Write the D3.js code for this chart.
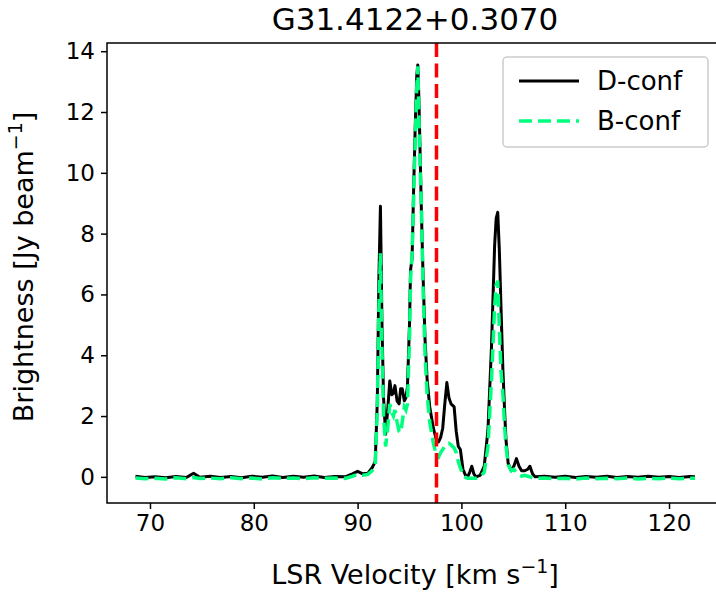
<!DOCTYPE html>
<html>
<head>
<meta charset="utf-8">
<script src="https://cdn.jsdelivr.net/npm/d3@7"></script>
<style>
  body { margin: 0; background: #fff; }
  svg { display: block; font-family: "DejaVu Sans", sans-serif; }
</style>
</head>
<body>
<div id="chart"></div>
<script>
// spectrum (km/s, Jy/beam)
var velocity = [68.6, 69.5, 70.5, 71.5, 72.5, 73.5, 74.2, 74.8, 75.8, 76.8, 77.8, 78.8, 79.8, 80.8, 81.8, 82.8, 83.8, 84.8, 85.8, 86.8, 87.8, 88.8,
  89.5, 90.0, 90.5, 91.0, 91.4, 91.7, 91.9, 92.05, 92.2, 92.35, 92.5, 92.7, 92.9, 93.1, 93.3, 93.45, 93.6, 93.8, 94.0, 94.15, 94.3, 94.5, 94.65, 94.8,
  95.0, 95.1, 95.25, 95.4, 95.55, 95.7, 95.8, 95.9, 96.0, 96.15, 96.3, 96.5, 96.7, 96.95, 97.3, 97.6, 97.8, 98.0, 98.2, 98.4, 98.6, 98.8, 99.0, 99.3,
  99.5, 99.7, 99.9, 100.15, 100.4, 100.6, 100.8, 101.0, 101.2, 101.4, 101.8, 102.2, 102.56, 102.9, 103.2, 103.35, 103.5, 103.65, 103.83, 104.0, 104.17,
  104.3, 104.5, 104.8, 105.05, 105.3, 105.55, 105.8, 106.1, 106.4, 106.6, 106.85, 107.1, 108, 109, 110, 111, 112, 113, 114, 115, 116, 117, 118, 119,
  120, 121, 122, 122.5];

var dConf = [0.02, -0.02, 0.0, -0.03, 0.01, -0.02, 0.12, -0.01, 0.02, -0.02, 0.01, -0.03, 0.02, -0.01, 0.03, -0.02, 0.02, -0.01, 0.03, -0.02, 0.01, 0.0,
  0.1, 0.18, 0.1, 0.12, 0.3, 0.5, 2.5, 6.5, 8.9, 5.0, 2.6, 1.4, 2.2, 3.15, 2.7, 2.75, 3.0, 2.5, 2.4, 2.9, 2.9, 2.5, 2.6, 2.95,
  5.0, 6.8, 7.2, 9.5, 11.5, 13.2, 13.55, 12.5, 11.0, 8.7, 6.7, 4.5, 3.2, 2.3, 1.6, 1.2, 1.15, 1.3, 1.6, 2.4, 3.1, 2.6, 2.4, 2.3,
  1.5, 1.0, 0.9, 0.25, 0.05, 0.0, 0.15, 0.35, 0.1, 0.0, 0.05, 0.35, 1.55, 4.3, 7.6, 8.5, 8.7, 7.5, 5.4, 3.5, 2.1,
  1.2, 0.45, 0.2, 0.35, 0.6, 0.35, 0.2, 0.2, 0.25, 0.35, 0.1, 0.0, 0.02, -0.01, 0.02, -0.02, 0.01, -0.01, 0.02, -0.02, 0.01, -0.01, 0.02, -0.01,
  0.01, -0.02, 0.01, 0.0];

var bConf = [-0.04, -0.06, -0.05, -0.07, -0.03, -0.06, -0.02, -0.05, -0.04, -0.06, -0.03, -0.06, -0.04, -0.07, -0.03, -0.05, -0.04, -0.06, -0.03, -0.05, -0.04, -0.05,
  0.02, 0.08, 0.05, 0.08, 0.2, 0.4, 2.2, 5.5, 7.35, 4.2, 2.0, 1.0, 1.6, 2.4, 2.1, 2.0, 2.2, 1.8, 1.5, 1.45, 1.8, 2.3, 2.2, 2.4,
  4.5, 6.5, 7.3, 9.2, 11.0, 12.8, 13.5, 12.0, 10.5, 8.8, 6.3, 4.0, 2.7, 1.8, 1.1, 0.7, 0.65, 0.8, 0.9, 1.0, 1.05, 1.1, 1.05, 0.95,
  0.8, 0.5, 0.3, 0.05, -0.02, -0.05, -0.05, -0.04, -0.05, -0.05, 0.0, 0.15, 1.0, 3.2, 5.6, 6.3, 6.45, 4.9, 3.4, 2.7, 1.6,
  1.0, 0.4, 0.2, 0.25, 0.15, 0.05, 0.02, 0.05, 0.02, 0.0, -0.03, -0.05, -0.04, -0.06, -0.05, -0.07, -0.04, -0.06, -0.05, -0.06, -0.04, -0.07, -0.05, -0.06,
  -0.04, -0.06, -0.05, -0.05];

var refVelocity = 97.6;
var xTicks = [70, 80, 90, 100, 110, 120];
var yTicks = [0, 2, 4, 6, 8, 10, 12, 14];
var seriesNames = ["D-conf", "B-conf"];

var W = 716, H = 594;
var margin = { top: 43, right: -7, bottom: 91, left: 107 };
var width = W - margin.left - margin.right;
var height = H - margin.top - margin.bottom;

var svg = d3.select("#chart").append("svg").attr("width", W).attr("height", H);
svg.append("rect").attr("width", W).attr("height", H).attr("fill", "#fff");
var g = svg.append("g").attr("transform", "translate(" + margin.left + "," + margin.top + ")");

var x = d3.scaleLinear().domain([65.86, 125.2]).range([0, width]);
var y = d3.scaleLinear().domain([-0.86, 14.27]).range([height, 0]);

var fs = 23, lfs = 27;
var greenDash = "13,6";

// axes
var xAxis = g.append("g")
    .attr("transform", "translate(0," + height + ")")
    .call(d3.axisBottom(x).tickValues(xTicks).tickSize(6).tickPadding(6).tickSizeOuter(0));
var yAxis = g.append("g")
    .call(d3.axisLeft(y).tickValues(yTicks).tickSize(6).tickPadding(6).tickSizeOuter(0));
[xAxis, yAxis].forEach(function (a) {
    a.select(".domain").remove();
    a.selectAll("line").attr("stroke", "#000").attr("stroke-width", 1.5);
    a.selectAll("text").attr("fill", "#000").attr("font-size", fs).attr("font-family", "DejaVu Sans");
});

var line = d3.line()
    .x(function (d) { return x(d[0]); })
    .y(function (d) { return y(d[1]); });

g.append("path")
    .datum(velocity.map(function (v, i) { return [v, dConf[i]]; }))
    .attr("d", line)
    .attr("fill", "none")
    .attr("stroke", "#000")
    .attr("stroke-width", 3)
    .attr("stroke-linejoin", "round");

g.append("path")
    .datum(velocity.map(function (v, i) { return [v, bConf[i]]; }))
    .attr("d", line)
    .attr("fill", "none")
    .attr("stroke", "#00ff7f")
    .attr("stroke-width", 3.5)
    .attr("stroke-dasharray", greenDash);

// reference velocity
g.append("line")
    .attr("x1", x(refVelocity)).attr("x2", x(refVelocity))
    .attr("y1", 0).attr("y2", height)
    .attr("stroke", "red")
    .attr("stroke-width", 3.5)
    .attr("stroke-dasharray", "14,6.5");

// frame
g.append("rect")
    .attr("width", width).attr("height", height)
    .attr("fill", "none").attr("stroke", "#000").attr("stroke-width", 1.5);

// legend
var legend = svg.append("g").attr("transform", "translate(503,57)");
legend.append("rect")
    .attr("width", 205).attr("height", 90).attr("rx", 4)
    .attr("fill", "#fff").attr("fill-opacity", 0.8)
    .attr("stroke", "#ccc").attr("stroke-width", 1.5);
var items = legend.selectAll("g.item").data(seriesNames).enter().append("g")
    .attr("transform", function (d, i) { return "translate(0," + (24 + i * 40) + ")"; });
items.append("line")
    .attr("x1", 16).attr("x2", 76)
    .attr("stroke", function (d, i) { return i ? "#00ff7f" : "#000"; })
    .attr("stroke-width", function (d, i) { return i ? 3.5 : 3; })
    .attr("stroke-dasharray", function (d, i) { return i ? greenDash : null; });
items.append("text")
    .attr("x", 94).attr("dy", "0.36em")
    .attr("font-size", 26)
    .text(function (d) { return d; });

// title and labels
svg.append("text")
    .attr("x", margin.left + width / 2).attr("y", 30)
    .attr("text-anchor", "middle").attr("font-size", 31)
    .text("G31.4122+0.3070");

var xl = svg.append("text")
    .attr("x", margin.left + width / 2).attr("y", 584)
    .attr("text-anchor", "middle").attr("font-size", lfs);
xl.append("tspan").text("LSR Velocity [km s");
xl.append("tspan").attr("font-size", lfs * 0.7).attr("dy", -11).text("\u22121");
xl.append("tspan").attr("dy", 11).text("]");

var yl = svg.append("text")
    .attr("transform", "translate(33," + (margin.top + height / 2 - 6) + ") rotate(-90)")
    .attr("text-anchor", "middle").attr("font-size", lfs);
yl.append("tspan").text("Brightness [Jy beam");
yl.append("tspan").attr("font-size", lfs * 0.7).attr("dy", -11).text("\u22121");
yl.append("tspan").attr("dy", 11).text("]");
</script>
</body>
</html>
